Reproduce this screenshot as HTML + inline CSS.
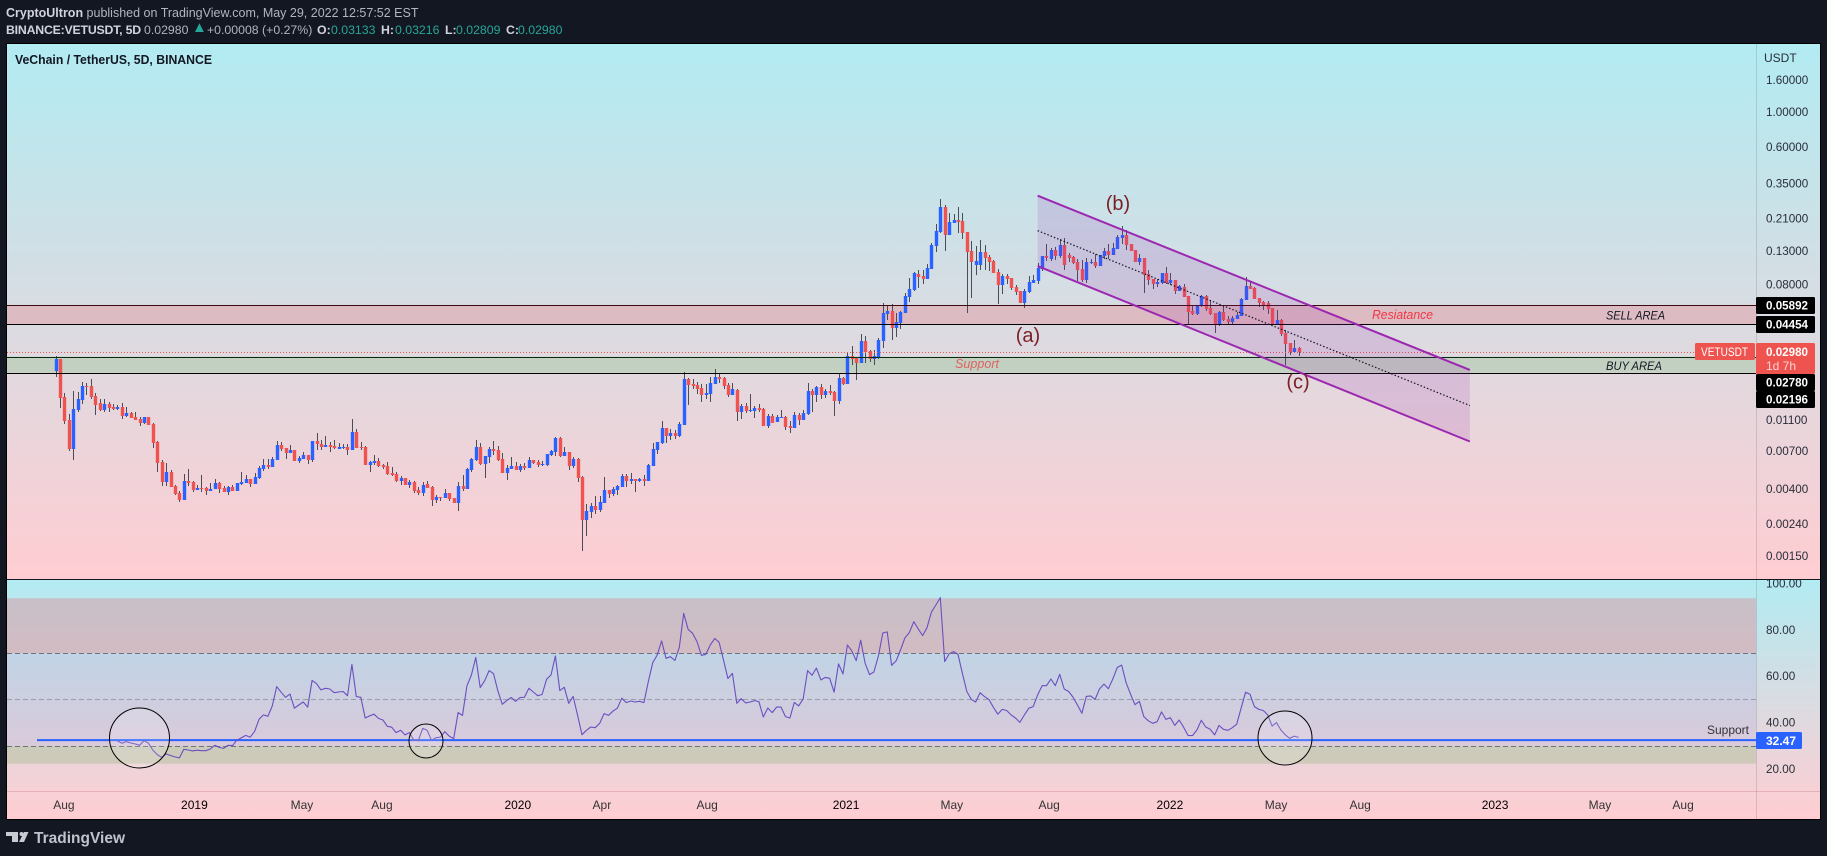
<!DOCTYPE html>
<html lang="en">
<head>
<meta charset="utf-8">
<title>VeChain / TetherUS, 5D, BINANCE</title>
<style>
html,body{margin:0;padding:0;width:1827px;height:856px;background:#131722;overflow:hidden;font-family:"Liberation Sans",sans-serif}
#header{position:absolute;left:0;top:0;width:700px;height:40px;color:#b2b5be;white-space:nowrap}
#header span{position:absolute}
#header .l1{top:5px;font-size:12.5px;line-height:16px}
#header .l2{top:22px;font-size:12.3px;line-height:16px}
#header b{color:#d1d4dc;font-weight:700}
#header .bb{color:#d1d4dc;font-weight:700}
#header .t{color:#26a69a}
svg{position:absolute;left:0;top:0}
svg text{font-family:"Liberation Sans",sans-serif}
</style>
</head>
<body>
<svg id="chart" width="1827" height="856" viewBox="0 0 1827 856">
<defs>
<linearGradient id="pg1" x1="0" y1="0" x2="0" y2="1"><stop offset="0" stop-color="#b2ebf2"/><stop offset="1" stop-color="#ffcdd2"/></linearGradient>
<clipPath id="rsiClip"><rect x="7" y="580" width="1813" height="240"/></clipPath>
</defs>
<rect x="7" y="44" width="1813" height="535" fill="url(#pg1)"/>
<rect x="7" y="580" width="1813" height="239" fill="url(#pg1)"/>
<g id="zones"></g>
<g id="candles"></g>
<g id="drawings"></g>
<g id="rsi"></g>
<g id="axes"></g>
<rect x="6.5" y="43.5" width="1814" height="776" fill="none" stroke="#000" stroke-width="1"/>
<line x1="7" x2="1820" y1="579.5" y2="579.5" stroke="#131722" stroke-width="1"/>
<g>
<path d="M6 832H18V842H12V836H6Z" fill="#c8cbd2"/>
<circle cx="21.5" cy="834" r="2" fill="#c8cbd2"/>
<path d="M24 832H28.5L24 842H19Z" fill="#c8cbd2"/>
<text x="34" y="843" font-size="16" font-weight="700" fill="#c0c3cb" textLength="91" lengthAdjust="spacingAndGlyphs">TradingView</text>
</g>
</svg>
<div id="header">
<span class="l1" style="left:6px"><b>CryptoUltron</b> published on TradingView.com, May 29, 2022 12:57:52 EST</span>
<span class="l2 bb" style="left:6px;letter-spacing:-.2px">BINANCE:VETUSDT, 5D</span>
<span class="l2" style="left:144px">0.02980</span>
<span class="l2 t" style="left:192px;font-size:15px;top:20px">▲</span>
<span class="l2" style="left:207px">+0.00008 (+0.27%)</span>
<span class="l2 bb" style="left:317px">O:</span>
<span class="l2 t" style="left:331px">0.03133</span>
<span class="l2 bb" style="left:381px">H:</span>
<span class="l2 t" style="left:395px">0.03216</span>
<span class="l2 bb" style="left:445px">L:</span>
<span class="l2 t" style="left:456px">0.02809</span>
<span class="l2 bb" style="left:506px">C:</span>
<span class="l2 t" style="left:518px">0.02980</span>
</div>
<script>
const opens=[0.02253,0.02686,0.01539,0.01099,0.007188,0.01272,0.01473,0.01808,0.01808,0.01562,
0.0141,0.01272,0.01389,0.0133,0.01291,0.0133,0.01165,0.01218,0.01148,0.01115,
0.01052,0.01148,0.01036,0.007963,0.005943,0.004433,0.005133,0.004181,0.003773,0.003405,
0.004499,0.004433,0.003943,0.00406,0.00406,0.003885,0.004001,0.004369,0.00406,0.003829,
0.00412,0.003885,0.004305,0.004369,0.004632,0.004305,0.004701,0.005363,0.005687,0.005523,
0.00612,0.007621,0.007294,0.006779,0.007083,0.006031,0.00621,0.006583,0.00612,0.00808,
0.007733,0.007401,0.007621,0.00751,0.007188,0.007294,0.007401,0.007083,0.009219,0.007401,
0.007401,0.005687,0.005856,0.006031,0.005687,0.005604,0.005058,0.004984,0.004499,0.004701,
0.004243,0.004433,0.003943,0.003773,0.004305,0.00412,0.003405,0.003558,0.003506,0.003773,
0.003506,0.003259,0.004181,0.004001,0.005285,0.00612,0.007401,0.005771,0.006395,0.007188,
0.007083,0.00621,0.005058,0.005363,0.005604,0.005285,0.005604,0.005443,0.00612,0.005943,
0.005687,0.005687,0.006583,0.006879,0.008443,0.006487,0.006879,0.005604,0.00621,0.00477,
0.002541,0.002856,0.003119,0.002941,0.003259,0.003943,0.003718,0.003943,0.00412,0.00484,
0.004499,0.004632,0.004499,0.004632,0.004499,0.005604,0.007083,0.007847,0.009775,0.008695,
0.009085,0.008695,0.01021,0.02004,0.01862,0.01835,0.01756,0.01585,0.01609,0.01862,
0.02063,0.02033,0.01835,0.01585,0.01706,0.01236,0.01349,0.01254,0.01254,0.0131,
0.01291,0.01007,0.01165,0.01067,0.01132,0.01148,0.01007,0.009775,0.01182,0.01099,
0.012,0.01681,0.01585,0.01782,0.01585,0.01681,0.01656,0.01452,0.02033,0.01862,
0.02806,0.02726,0.02533,0.03496,0.0302,0.02686,0.02766,0.03496,0.05191,0.05424,
0.04229,0.0455,0.05267,0.06658,0.07377,0.09325,0.09056,0.08666,0.1003,0.1405,
0.1725,0.2488,0.1651,0.1968,0.2056,0.2026,0.1725,0.1306,0.1064,0.1064,
0.1287,0.1196,0.1128,0.09602,0.07937,0.09056,0.08794,0.07708,0.07269,0.06098,
0.07164,0.08173,0.08416,0.1003,0.1214,0.1161,0.1325,0.1214,0.1426,0.1232,
0.1196,0.1111,0.1003,0.0854,0.1095,0.1111,0.1048,0.1214,0.1306,0.1232,
0.1345,0.158,0.1651,0.1447,0.1325,0.1111,0.1179,0.09325,0.08666,0.08054,
0.08173,0.09463,0.08173,0.0854,0.07269,0.07708,0.06756,0.05424,0.05191,0.05836,
0.06756,0.05668,0.05267,0.04418,0.05345,0.04824,0.04617,0.04824,0.05041,0.06372,
0.07822,0.07596,0.06561,0.06188,0.06098,0.05668,0.04483,0.04754,0.0393,0.03395,
0.02976,0.03133];
const highs=[0.02806,0.02686,0.01632,0.012,0.01681,0.01656,0.01918,0.0189,0.02004,0.01632,
0.01495,0.01495,0.01431,0.01389,0.01369,0.0141,0.0133,0.01236,0.01236,0.01148,
0.01148,0.01148,0.01052,0.00808,0.00612,0.005856,0.005285,0.004243,0.003885,0.004984,
0.005363,0.004499,0.004243,0.004912,0.00412,0.004369,0.004632,0.004433,0.004181,0.004181,
0.004243,0.004369,0.005133,0.004912,0.004632,0.005058,0.005604,0.00621,0.00621,0.006395,
0.00808,0.007963,0.007294,0.007621,0.007083,0.006487,0.006879,0.006583,0.00808,0.009085,
0.008199,0.008695,0.007963,0.008199,0.007847,0.007733,0.007733,0.01115,0.009633,0.007963,
0.00751,0.006031,0.006583,0.006302,0.005771,0.005943,0.005523,0.005133,0.00484,0.004701,
0.004565,0.004499,0.00412,0.004433,0.004499,0.004181,0.003664,0.003558,0.004001,0.003773,
0.003506,0.004433,0.004912,0.005443,0.006302,0.008199,0.007847,0.006487,0.007401,0.00808,
0.00751,0.006779,0.005687,0.006395,0.005943,0.005771,0.005856,0.006395,0.00612,0.00612,
0.006031,0.00668,0.007083,0.008568,0.008568,0.007401,0.006879,0.006395,0.006302,0.00484,
0.003211,0.003259,0.003611,0.003611,0.00477,0.003943,0.00412,0.004243,0.004984,0.004984,
0.005058,0.004632,0.004701,0.004912,0.005771,0.007847,0.007963,0.01083,0.009775,0.009633,
0.009493,0.01067,0.0222,0.02033,0.02004,0.01918,0.01862,0.01862,0.02063,0.0232,
0.02156,0.02063,0.0189,0.0189,0.01731,0.01389,0.0141,0.01609,0.01349,0.01389,
0.0131,0.012,0.012,0.01182,0.01272,0.01165,0.01083,0.01236,0.01218,0.01272,
0.0189,0.01731,0.01808,0.01862,0.01731,0.01835,0.01681,0.02156,0.02063,0.02933,
0.03249,0.02726,0.03873,0.03761,0.03065,0.03065,0.03653,0.06098,0.05922,0.06009,
0.05267,0.05424,0.0706,0.08794,0.09602,0.09888,0.09888,0.1079,0.1468,0.1939,
0.2797,0.2562,0.2278,0.2245,0.2488,0.2278,0.1725,0.1512,0.1405,0.1534,
0.1426,0.1232,0.1145,0.1003,0.09325,0.09325,0.08794,0.07937,0.07269,0.07486,
0.09056,0.09189,0.1095,0.1214,0.1447,0.1365,0.1385,0.1557,0.158,0.1268,
0.1214,0.1161,0.1145,0.1179,0.1161,0.125,0.1232,0.1365,0.1447,0.1468,
0.1651,0.1883,0.1776,0.1447,0.1325,0.125,0.1179,0.09888,0.08666,0.08666,
0.09463,0.1033,0.09463,0.0854,0.07937,0.08054,0.06756,0.05922,0.05922,0.06856,
0.06856,0.06372,0.05267,0.05424,0.05836,0.05041,0.05041,0.05345,0.06561,0.08924,
0.08416,0.07708,0.06561,0.06279,0.06279,0.05668,0.05504,0.04824,0.04107,0.03395,
0.03548,0.03216];
const lows=[0.02063,0.0131,0.01036,0.00698,0.00612,0.01236,0.01389,0.01585,0.01495,0.01182,
0.01254,0.01236,0.01236,0.01272,0.01272,0.01115,0.01148,0.01132,0.01099,0.01007,
0.01036,0.01021,0.007294,0.005133,0.004181,0.004181,0.00412,0.003664,0.003307,0.003405,
0.004181,0.003829,0.003943,0.003829,0.003664,0.003885,0.004001,0.003773,0.003829,0.003664,
0.003885,0.003885,0.004243,0.004369,0.00412,0.004305,0.004632,0.005208,0.005363,0.005523,
0.00612,0.00698,0.00621,0.006779,0.006031,0.005856,0.00621,0.005771,0.005943,0.007083,
0.007083,0.007401,0.006879,0.007188,0.007188,0.007188,0.006583,0.007083,0.007294,0.007083,
0.005687,0.005133,0.005687,0.005523,0.005363,0.004912,0.00484,0.004433,0.004243,0.004243,
0.00406,0.003773,0.003664,0.003611,0.00406,0.003119,0.003259,0.003355,0.003506,0.003355,
0.003259,0.002898,0.003885,0.004001,0.005133,0.006031,0.005687,0.004701,0.005856,0.006583,
0.006031,0.005058,0.004565,0.005363,0.005285,0.005133,0.005285,0.005443,0.005771,0.005523,
0.005604,0.005604,0.006487,0.006487,0.006395,0.006487,0.005285,0.005443,0.004433,0.001614,
0.00201,0.002616,0.002774,0.002856,0.003259,0.003506,0.003611,0.003664,0.00412,0.00412,
0.004305,0.003829,0.004433,0.004181,0.004499,0.005604,0.00668,0.007733,0.007847,0.008199,
0.00832,0.008568,0.01021,0.01369,0.01731,0.01609,0.01431,0.01495,0.01431,0.01862,
0.0189,0.01731,0.01539,0.01585,0.01083,0.01115,0.01218,0.01236,0.01132,0.01236,
0.01007,0.009775,0.01052,0.01067,0.01132,0.009493,0.009085,0.009775,0.01021,0.01099,
0.01182,0.01236,0.01431,0.01495,0.01517,0.01585,0.01165,0.01389,0.01835,0.01862,
0.0246,0.01975,0.02533,0.02533,0.0257,0.0246,0.02686,0.03156,0.04754,0.03548,
0.03707,0.04168,0.05267,0.06188,0.07269,0.07596,0.08054,0.08666,0.1003,0.1287,
0.17,0.1306,0.1651,0.1968,0.17,0.1557,0.05267,0.06561,0.09189,0.09888,
0.09888,0.09744,0.09463,0.06009,0.06957,0.08054,0.07377,0.06856,0.06098,0.05668,
0.0706,0.08173,0.08054,0.09744,0.1128,0.1128,0.1145,0.1179,0.09888,0.1111,
0.1079,0.08416,0.08294,0.08173,0.1079,0.1018,0.1048,0.1161,0.1161,0.1232,
0.1345,0.1447,0.1325,0.1306,0.1111,0.1064,0.0706,0.07937,0.07486,0.07708,
0.08054,0.08054,0.07937,0.06957,0.07269,0.06658,0.04483,0.05115,0.05115,0.05751,
0.05424,0.05115,0.0393,0.04354,0.04685,0.04418,0.04418,0.04824,0.05041,0.06372,
0.07486,0.06466,0.05751,0.05504,0.05191,0.04418,0.04418,0.03761,0.0246,0.02848,
0.02976,0.02809];
const closes=[0.02686,0.01517,0.01083,0.007188,0.01291,0.01495,0.01808,0.01782,0.01539,0.01369,
0.01272,0.01389,0.0131,0.01291,0.0133,0.01165,0.01218,0.01132,0.01099,0.01052,
0.01148,0.01021,0.007847,0.005856,0.004433,0.005133,0.00412,0.003718,0.003405,0.004499,
0.004369,0.003943,0.00406,0.004001,0.003885,0.004001,0.004369,0.004001,0.003829,0.00412,
0.003885,0.004369,0.004433,0.004632,0.004305,0.00477,0.005443,0.005687,0.005523,0.00621,
0.007621,0.007188,0.006779,0.007083,0.006031,0.006302,0.006583,0.00612,0.00808,0.007733,
0.007401,0.007621,0.007401,0.007294,0.007401,0.007401,0.007083,0.009219,0.007294,0.007294,
0.005687,0.005943,0.006031,0.005604,0.005523,0.004984,0.004912,0.004499,0.004701,0.004243,
0.004433,0.003885,0.003773,0.004243,0.00406,0.003405,0.003558,0.003506,0.003773,0.003455,
0.003259,0.004181,0.004001,0.005363,0.00621,0.007401,0.005771,0.006487,0.007188,0.00698,
0.00612,0.005058,0.005443,0.005604,0.005285,0.005604,0.005443,0.00612,0.005856,0.005687,
0.005771,0.00668,0.00698,0.008443,0.006487,0.006879,0.005604,0.00621,0.004701,0.002541,
0.002898,0.003119,0.002941,0.003307,0.003943,0.003718,0.004001,0.004181,0.00484,0.004499,
0.004632,0.004499,0.004632,0.004499,0.005687,0.007188,0.007963,0.009775,0.008695,0.009085,
0.008695,0.01036,0.02004,0.01835,0.01808,0.01731,0.01585,0.01632,0.0189,0.02063,
0.02004,0.01808,0.01585,0.01731,0.01236,0.01349,0.01254,0.01272,0.0131,0.01272,
0.01007,0.01165,0.01052,0.01148,0.01148,0.009919,0.009775,0.01182,0.01099,0.01218,
0.01681,0.01585,0.01782,0.01585,0.01681,0.01632,0.01452,0.02033,0.01862,0.02806,
0.02686,0.02533,0.03496,0.02976,0.02686,0.02806,0.03548,0.05267,0.05424,0.04229,
0.04617,0.05345,0.06756,0.07486,0.09463,0.08924,0.08666,0.1018,0.1426,0.1751,
0.2488,0.1651,0.1997,0.2056,0.1997,0.17,0.1287,0.1111,0.1128,0.1287,
0.1179,0.1111,0.09463,0.07937,0.09056,0.08666,0.07596,0.07164,0.06098,0.07269,
0.08294,0.0854,0.1018,0.1214,0.1179,0.1325,0.1214,0.1426,0.1064,0.1179,
0.1095,0.09888,0.0854,0.1111,0.1111,0.1048,0.1232,0.1306,0.1232,0.1365,
0.1603,0.1651,0.1426,0.1306,0.1111,0.1179,0.09189,0.0854,0.08054,0.08294,
0.09463,0.08173,0.0854,0.07269,0.07822,0.06658,0.05345,0.05191,0.05922,0.06756,
0.05585,0.05191,0.04418,0.05345,0.04754,0.04617,0.04895,0.05115,0.06466,0.07822,
0.07486,0.06466,0.06098,0.05922,0.05585,0.04483,0.04754,0.03873,0.03346,0.02976,
0.03156,0.0298];
const rsiStartBar=14;
const rsiValues=[32.1,31.1,31.8,31.2,30.8,30.2,32.2,31.1,28.2,26.2,25.0,26.5,25.8,25.2,24.8,28.5,
28.2,27.8,28.1,27.9,27.9,28.6,30.2,29.3,28.9,30.2,30.1,32.4,33.4,34.5,33.7,36.2,41.4,43.3,42.7,47.2,
55.5,53.1,50.9,52.3,46.2,47.6,48.9,46.7,58.2,56.8,54.1,54.8,54.5,52.9,53.2,53.4,51.6,65.1,51.2,50.9,
42.0,42.9,43.6,41.8,41.1,38.4,38.0,35.7,36.7,34.7,35.7,32.4,32.2,37.5,36.7,32.4,33.5,33.7,36.1,34.2,
33.1,44.3,43.1,55.8,60.5,68.1,55.1,58.0,62.4,61.1,53.6,47.9,49.5,50.8,49.2,50.8,50.9,54.8,53.2,51.6,
52.1,58.7,60.5,68.7,53.8,55.2,48.3,51.3,43.3,34.8,36.7,38.1,37.8,39.7,43.9,43.1,44.9,46.2,50.5,48.6,
49.3,48.9,49.2,48.6,57.6,65.8,69.1,75.2,67.7,68.4,66.8,72.4,87.1,80.2,78.5,74.9,69.0,69.4,73.5,76.3,
74.6,67.0,59.0,61.2,48.3,50.3,48.5,48.9,49.5,49.0,42.4,46.3,44.3,46.7,46.7,42.6,42.0,48.7,47.2,50.3,
62.4,60.4,63.5,58.4,59.5,59.1,53.1,65.3,61.0,73.5,70.9,66.7,75.5,65.6,60.7,61.8,68.7,78.6,79.1,64.7,
66.6,71.3,76.5,78.8,83.5,80.4,77.5,80.9,87.7,90.7,93.9,66.3,69.6,70.6,69.4,61.2,53.4,50.0,48.9,52.9,
51.2,49.9,46.6,43.6,45.7,45.2,43.3,42.0,40.1,43.3,46.2,46.9,51.9,55.9,55.9,58.8,55.9,60.8,54.5,53.4,
51.0,47.6,44.0,51.3,51.5,50.0,54.6,56.6,54.6,58.8,63.8,64.8,57.2,52.3,47.7,49.2,42.6,40.8,39.7,40.4,
44.6,41.4,42.1,38.8,41.1,38.0,34.5,34.4,36.8,41.0,38.1,37.1,34.7,38.8,37.1,36.7,37.8,39.3,46.2,53.1,
52.2,46.9,45.7,45.2,43.3,38.5,40.0,36.8,34.7,33.2,34.2,33.6];
const priceTicks=[1.6,1,0.6,0.35,0.21,0.13,0.08,0.011,0.007,0.004,0.0024,0.0015];
const rsiTicks=[100,80,60,40,20];
const timeTickLabels=["Aug","2019","May","Aug","2020","Apr","Aug","2021","May","Aug","2022","May","Aug","2023","May","Aug"];
const timeTickBars=[1.9,31.4,55.7,73.8,104.5,123.5,147.3,178.7,202.6,224.6,251.9,275.9,294.9,325.4,349.1,367.9];
const sellArea=[0.05892,0.04454];
const buyArea=[0.0278,0.02196];
const lastPrice=0.0298;
const channelBars=[222,319.7];
const channelUpper=[0.2931,0.02285];
const channelMiddle=[0.1757,0.01357];
const channelLower=[0.1047,0.00802];
const rsiBands=[93.6,70,50,30,22.3];
const rsiSupport=32.47;

const NS="http://www.w3.org/2000/svg";
const PANE_L=7,AXIS_X=1756,PANE_R=1820;
function xOf(bar){return 55.5+4.424*bar;}
function yPrice(p){return 556-68.3*Math.log(p/0.0015);}
function yRsi(v){return 769-(v-20)*2.32;}
function mk(tag,parent,attrs){
  const e=document.createElementNS(NS,tag);
  for(const k in attrs)e.setAttribute(k,attrs[k]);
  parent.appendChild(e);
  return e;
}
const zones=document.getElementById("zones");
const candles=document.getElementById("candles");
const drawings=document.getElementById("drawings");
const rsiG=document.getElementById("rsi");
const axes=document.getElementById("axes");

/* zones */
let el=mk("rect",zones,{x:PANE_L,y:yPrice(sellArea[0]),width:AXIS_X-PANE_L,height:yPrice(sellArea[1])-yPrice(sellArea[0]),fill:"rgba(242,54,69,.2)"});


el=mk("rect",zones,{x:PANE_L,y:yPrice(buyArea[0]),width:AXIS_X-PANE_L,height:yPrice(buyArea[1])-yPrice(buyArea[0]),fill:"rgba(76,175,80,.2)"});



/* candles */
for(let i=0;i<closes.length;i++){
  const up=closes[i]>=opens[i];
  const xc=Math.round(xOf(i));
  const g=mk("g",candles,{});
  
  
  const wt=Math.round(yPrice(highs[i])),wb=Math.round(yPrice(lows[i]));
  const w=mk("rect",g,{x:xc,y:wt,width:1,height:Math.max(1,wb-wt),fill:"#4a4d58"});
  
  
  const bt=Math.round(yPrice(Math.max(opens[i],closes[i]))),bb=Math.round(yPrice(Math.min(opens[i],closes[i])));
  const b=mk("rect",g,{x:xc-1.2,y:bt,width:3.4,height:Math.max(1,bb-bt),fill:up?"#2962ff":"#ef5350"});
  
  
}

/* zone borders & last-price line above candles */
[[sellArea[0],'sell-area-top-line','#3a0a10'],[sellArea[1],'sell-area-bottom-line','#000'],[buyArea[0],'buy-area-top-line','#0a2a10'],[buyArea[1],'buy-area-bottom-line','#000']].forEach(function(z){
  const y=Math.round(yPrice(z[0]))+0.5;
  const l=mk("line",drawings,{x1:PANE_L,x2:AXIS_X,y1:y,y2:y,stroke:z[2],"stroke-width":1});
  
  
});
el=mk("line",drawings,{x1:PANE_L,x2:AXIS_X,y1:Math.round(yPrice(lastPrice))+0.5,y2:Math.round(yPrice(lastPrice))+0.5,stroke:"#ef5350","stroke-width":1,"stroke-dasharray":"1 2"});



/* channel */
const cx0=xOf(channelBars[0]),cx1=xOf(channelBars[1]);
el=mk("polygon",drawings,{points:[cx0+","+yPrice(channelUpper[0]),cx1+","+yPrice(channelUpper[1]),cx1+","+yPrice(channelLower[1]),cx0+","+yPrice(channelLower[0])].join(" "),fill:"rgba(156,39,176,.15)"});


el=mk("line",drawings,{x1:cx0,y1:yPrice(channelUpper[0]),x2:cx1,y2:yPrice(channelUpper[1]),stroke:"#9c27b0","stroke-width":2});


el=mk("line",drawings,{x1:cx0,y1:yPrice(channelLower[0]),x2:cx1,y2:yPrice(channelLower[1]),stroke:"#9c27b0","stroke-width":2});


el=mk("line",drawings,{x1:cx0,y1:yPrice(channelMiddle[0]),x2:cx1,y2:yPrice(channelMiddle[1]),stroke:"#131722","stroke-width":1.2,"stroke-dasharray":"1.5 2"});



/* RSI bands */
el=mk("rect",rsiG,{x:PANE_L,y:yRsi(rsiBands[0]),width:AXIS_X-PANE_L,height:yRsi(rsiBands[1])-yRsi(rsiBands[0]),fill:"rgba(235,100,110,.3)"});


el=mk("rect",rsiG,{x:PANE_L,y:yRsi(rsiBands[1]),width:AXIS_X-PANE_L,height:yRsi(rsiBands[3])-yRsi(rsiBands[1]),fill:"rgba(141,133,218,.15)"});


el=mk("rect",rsiG,{x:PANE_L,y:yRsi(rsiBands[3]),width:AXIS_X-PANE_L,height:yRsi(rsiBands[4])-yRsi(rsiBands[3]),fill:"rgba(90,160,55,.2)"});


el=mk("line",rsiG,{x1:PANE_L,x2:AXIS_X,y1:Math.round(yRsi(rsiBands[1]))+0.5,y2:Math.round(yRsi(rsiBands[1]))+0.5,stroke:"#70727c","stroke-width":1,"stroke-dasharray":"5 3"});


el=mk("line",rsiG,{x1:PANE_L,x2:AXIS_X,y1:Math.round(yRsi(rsiBands[2]))+0.5,y2:Math.round(yRsi(rsiBands[2]))+0.5,stroke:"rgba(112,114,124,.55)","stroke-width":1,"stroke-dasharray":"5 3"});


el=mk("line",rsiG,{x1:PANE_L,x2:AXIS_X,y1:Math.round(yRsi(rsiBands[3]))+0.5,y2:Math.round(yRsi(rsiBands[3]))+0.5,stroke:"#70727c","stroke-width":1,"stroke-dasharray":"5 3"});



/* RSI support line and series */
el=mk("line",rsiG,{x1:37,x2:AXIS_X,y1:yRsi(rsiSupport),y2:yRsi(rsiSupport),stroke:"#2962ff","stroke-width":2});


const rsiPts=rsiValues.map(function(v,k){return xOf(rsiStartBar+k).toFixed(1)+","+yRsi(v).toFixed(1);}).join(" ");
el=mk("polyline",rsiG,{points:rsiPts,fill:"none",stroke:"#6a4fc0","stroke-width":1.1,"stroke-linejoin":"round"});



/* circles */
el=mk("ellipse",rsiG,{cx:139.5,cy:738,rx:30,ry:30,fill:"rgba(255,255,255,.15)",stroke:"#000","stroke-width":1});


el=mk("ellipse",rsiG,{cx:426,cy:741,rx:17,ry:17,fill:"rgba(255,255,255,.15)",stroke:"#000","stroke-width":1});


el=mk("ellipse",rsiG,{cx:1285,cy:738,rx:27,ry:27,fill:"rgba(255,255,255,.15)",stroke:"#000","stroke-width":1});



/* annotation text */
function annot(parent,str,x,y,size,fill,anchor,italic,fitWidth){
  const t=mk("text",parent,{x:x,y:y,"font-size":size,fill:fill,"text-anchor":anchor});
  if(italic)t.setAttribute("font-style","italic");
  if(fitWidth){t.setAttribute("textLength",fitWidth);t.setAttribute("lengthAdjust","spacingAndGlyphs");}
  t.textContent=str;
  return t;
}
el=annot(drawings,"(a)",1028,342,20,"#7b1e26","middle");


el=annot(drawings,"(b)",1118,210,20,"#7b1e26","middle");


el=annot(drawings,"(c)",1298,388.5,20,"#7b1e26","middle");


el=annot(drawings,"Resiatance",1372,319,13,"#f23645","start",true,61);


el=annot(drawings,"Support",955,368,13,"#e06060","start",true,44);


el=annot(drawings,"SELL AREA",1606,319.5,12,"#131722","start",true,59);


el=annot(drawings,"BUY AREA",1606,370,12,"#131722","start",true,56);


el=annot(drawings,"VeChain / TetherUS, 5D, BINANCE",15,64,12.6,"#131722","start",false,197);
el.setAttribute("font-weight","700");


el=annot(rsiG,"Support",1749,734,12,"#333","end");



/* axes */
el=mk("line",axes,{x1:AXIS_X+0.5,x2:AXIS_X+0.5,y1:44,y2:819,stroke:"rgba(90,95,110,.22)","stroke-width":1});


el=mk("line",axes,{x1:PANE_L,x2:PANE_R,y1:791.5,y2:791.5,stroke:"rgba(160,70,80,.22)","stroke-width":1});


el=annot(axes,"USDT",1764,62,12,"#2a2e39","start");


for(let i=0;i<priceTicks.length;i++){
  const t=annot(axes,priceTicks[i].toFixed(5),1766,yPrice(priceTicks[i])+4,11.7,"#2a2e39","start");
  
  
}
const rsiTickG=mk("g",axes,{"clip-path":"url(#rsiClip)"});


for(let i=0;i<rsiTicks.length;i++){
  const t=annot(rsiTickG,rsiTicks[i].toFixed(2),1766,yRsi(rsiTicks[i])+4,11.7,"#2a2e39","start");
  
  
}
for(let i=0;i<timeTickLabels.length;i++){
  const isYear=/^\d+$/.test(timeTickLabels[i]);
  const t=annot(axes,timeTickLabels[i],xOf(timeTickBars[i]),809,12,isYear?"#000":"#333","middle");
  
  
}

/* axis badges */
function badge(str,y,h,fill){
  const g=mk("g",axes,{});
  mk("rect",g,{x:AXIS_X,y:y,width:59,height:h,rx:1.5,fill:fill});
  const t=annot(g,str,1766,y+h/2+4,11.7,"#fff","start",false,42);
  t.setAttribute("font-weight","700");
  return g;
}
el=badge(sellArea[0].toFixed(5),297,17,"#000");


el=badge(sellArea[1].toFixed(5),316,17,"#000");


el=badge(buyArea[0].toFixed(5),374,17,"#000");


el=badge(buyArea[1].toFixed(5),391,17,"#000");


el=mk("rect",axes,{x:AXIS_X,y:343,width:59,height:31,rx:1.5,fill:"#ef5350"});


el=annot(axes,lastPrice.toFixed(5),1766,356,11.7,"#fff","start",false,42);
el.setAttribute("font-weight","700");


el=annot(axes,"1d 7h",1766,370,12,"rgba(255,255,255,.75)","start");


el=mk("rect",axes,{x:1695,y:343,width:60,height:17,rx:1.5,fill:"#ef5350"});


el=annot(axes,"VETUSDT",1701,356,12,"#fff","start",false,47);


el=mk("rect",axes,{x:AXIS_X,y:732,width:46,height:17,rx:1.5,fill:"#2962ff"});


el=annot(axes,rsiSupport.toFixed(2),1766,745,12,"#fff","start");
el.setAttribute("font-weight","700");


</script>
</body>
</html>
